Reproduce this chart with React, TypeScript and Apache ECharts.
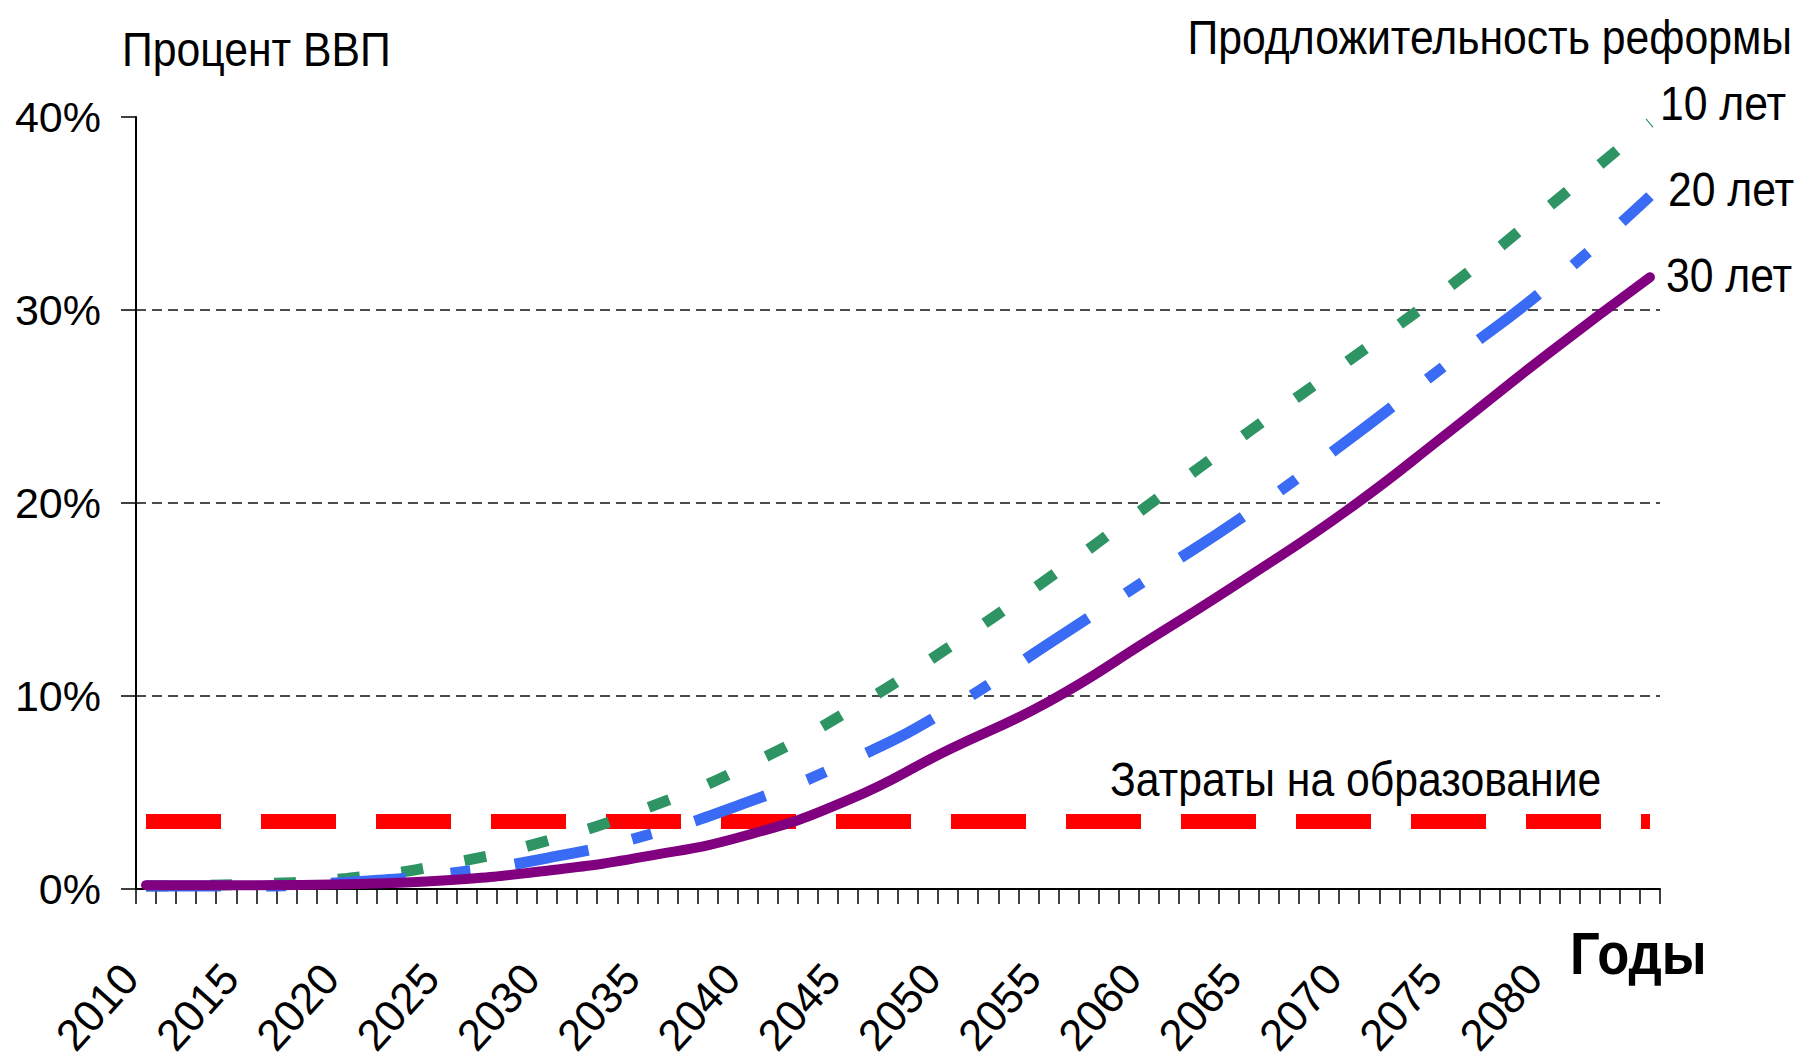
import React, { useEffect, useRef } from 'react';
import * as echarts from 'echarts';

// Categories: every year 2010..2085 (one tick per year)
const YEARS = [
  '2010', '2011', '2012', '2013', '2014', '2015', '2016', '2017', '2018', '2019',
  '2020', '2021', '2022', '2023', '2024', '2025', '2026', '2027', '2028', '2029',
  '2030', '2031', '2032', '2033', '2034', '2035', '2036', '2037', '2038', '2039',
  '2040', '2041', '2042', '2043', '2044', '2045', '2046', '2047', '2048', '2049',
  '2050', '2051', '2052', '2053', '2054', '2055', '2056', '2057', '2058', '2059',
  '2060', '2061', '2062', '2063', '2064', '2065', '2066', '2067', '2068', '2069',
  '2070', '2071', '2072', '2073', '2074', '2075', '2076', '2077', '2078', '2079',
  '2080', '2081', '2082', '2083', '2084', '2085',
];
const LABEL_YEARS = [
  '2010', '2015', '2020', '2025', '2030', '2035', '2040', '2045',
  '2050', '2055', '2060', '2065', '2070', '2075', '2080',
];
const KEY_YEARS = [
  '2010', '2015', '2020', '2025', '2030', '2035', '2040', '2045',
  '2050', '2055', '2060', '2065', '2070', '2075', '2080', '2085',
];
const REFORM_10 = [0.15, 0.25, 0.55, 1.3, 2.5, 4.2, 6.4, 9.2, 12.5, 16.1, 19.9, 23.7, 27.4, 31.2, 35.4, 39.7];
const REFORM_20 = [0.15, 0.15, 0.35, 0.8, 1.6, 2.8, 4.5, 6.6, 9.3, 12.7, 16.1, 19.5, 23.3, 27.3, 31.3, 35.9];
const REFORM_30 = [0.2, 0.2, 0.25, 0.45, 0.95, 1.7, 2.8, 4.6, 7.2, 9.7, 12.9, 16.2, 19.7, 23.7, 27.8, 31.7];
const EDUCATION_YEARS = ['2010', '2085'];
const EDUCATION = [3.5, 3.5];

const SERIES_NAMES = ['10 лет', '20 лет', '30 лет'];
const Y_TITLE = 'Процент ВВП';
const LEGEND_TITLE = 'Продложительность реформы';
const EDU_LABEL = 'Затраты на образование';
const X_TITLE = 'Годы';

const FONT = "'Liberation Sans', Arial, sans-serif";

const pairs = (xs: string[], ys: number[]) => xs.map((x, i) => [x, ys[i]]);

export default function App() {
  const ref = useRef<HTMLDivElement>(null);

  useEffect(() => {
    if (!ref.current) return;
    const chart = echarts.init(ref.current, undefined, { renderer: 'svg' });

    const text = (t: string, x: number, y: number, align: string, size = 48, weight = 'normal') => ({
      type: 'text',
      x,
      y,
      scaleX: 0.89,
      silent: true,
      style: {
        text: t,
        fill: '#000',
        fontSize: size,
        fontWeight: weight,
        fontFamily: FONT,
        textAlign: align,
        textVerticalAlign: 'middle',
      },
    });

    const option: any = {
      animation: false,
      backgroundColor: '#ffffff',
      grid: { left: 136, right: 144, top: 117, bottom: 171, containLabel: false },
      xAxis: {
        type: 'category',
        data: YEARS,
        boundaryGap: true,
        axisLine: { show: true, lineStyle: { color: '#000', width: 2 } },
        axisTick: { show: true, interval: 0, length: 15, lineStyle: { color: '#000', width: 1.5 } },
        axisLabel: {
          interval: (_i: number, v: string) => LABEL_YEARS.includes(v),
          rotate: 48,
          margin: 96,
          verticalAlign: 'bottom',
          fontSize: 44,
          fontFamily: FONT,
          color: '#000',
        },
        splitLine: { show: false },
      },
      yAxis: {
        type: 'value',
        min: 0,
        max: 40,
        interval: 10,
        axisLine: { show: true, lineStyle: { color: '#000', width: 2 } },
        axisTick: { show: true, length: 15, lineStyle: { color: '#000', width: 1.5 } },
        axisLabel: {
          formatter: '{value}%',
          margin: 35,
          fontSize: 43,
          fontFamily: FONT,
          color: '#000',
        },
        splitLine: {
          show: true,
          showMinLine: false,
          showMaxLine: false,
          lineStyle: { color: '#111', width: 1.6, type: [10, 6] },
        },
      },
      series: [
        {
          name: EDU_LABEL,
          type: 'line',
          data: pairs(EDUCATION_YEARS, EDUCATION),
          symbol: 'none',
          lineStyle: { color: '#ff0000', width: 15, type: [75, 40], cap: 'butt' },
          z: 2,
        },
        {
          name: SERIES_NAMES[0],
          type: 'line',
          data: pairs(KEY_YEARS, REFORM_10),
          smooth: 0.5,
          symbol: 'none',
          lineStyle: { color: '#2f9464', width: 11, type: [22, 42], cap: 'butt' },
          z: 3,
        },
        {
          name: SERIES_NAMES[1],
          type: 'line',
          data: pairs(KEY_YEARS, REFORM_20),
          smooth: 0.5,
          symbol: 'none',
          lineStyle: { color: '#3a6bf5', width: 11, type: [75, 45, 20, 45], cap: 'butt' },
          z: 4,
        },
        {
          name: SERIES_NAMES[2],
          type: 'line',
          data: pairs(KEY_YEARS, REFORM_30),
          smooth: 0.5,
          symbol: 'none',
          lineStyle: { color: '#800080', width: 10, cap: 'round' },
          z: 5,
        },
      ],
      graphic: [
        text(Y_TITLE, 122, 50, 'left'),
        text(LEGEND_TITLE, 1792, 38, 'right'),
        text(SERIES_NAMES[0], 1660, 104, 'left'),
        text(SERIES_NAMES[1], 1668, 190, 'left'),
        text(SERIES_NAMES[2], 1666, 276, 'left'),
        text(EDU_LABEL, 1110, 780, 'left'),
        text(X_TITLE, 1570, 953, 'left', 59, 'bold'),
      ],
    };

    chart.setOption(option);
    return () => chart.dispose();
  }, []);

  return (
    <div
      ref={ref}
      style={{ position: 'absolute', left: 0, top: 0, width: 1804, height: 1060, background: '#fff' }}
    />
  );
}
